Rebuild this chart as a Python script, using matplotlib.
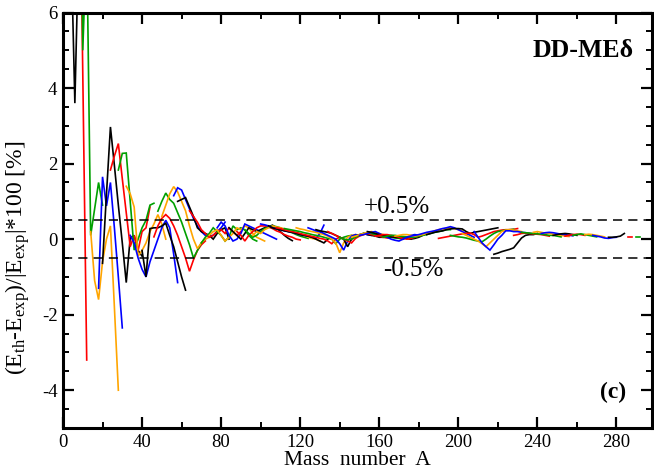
import matplotlib
matplotlib.use("Agg")
import matplotlib.pyplot as plt
from matplotlib.ticker import MultipleLocator

# ---------------- data ----------------
# colour cycle of the isotopic chains (Z = 2, 4, 6, ...)
chain_colors = ["black", "#FF0000", "#00A000", "#FFA500", "#0000FF"]

# first mass number of every chain (even-even nuclei, step of 2 in A)
chain_start_A = [
    4, 8, 8, 14, 18, 20, 24, 28, 32, 34,
    40, 46, 48, 50, 56, 58, 64, 70, 74, 78,
    84, 88, 92, 96, 100, 104, 108, 112, 118, 124,
    128, 134, 140, 146, 150, 154, 158, 162, 168, 172,
    184, 190, 196, 202, 208, 218, 228, 232, 238, 242,
    248, 254, 258, 264, 268, 276, 286, 290,
]

# relative deviation (E_th - E_exp)/|E_exp| * 100 along each chain
chain_dev = [
    [8.0, 3.6, 8.0],
    [12.0, 4.4, -3.2],
    [15.0, 5.0, 8.0, 0.1, 0.8, 1.5, 0.9],
    [0.2, -1.1, -1.6, -0.6, 0.0, 0.35, -1.8, -4.0],
    [-1.3, 1.65, 0.88, 1.5, 0.3, -1.0, -2.35],
    [-0.64, 1.2, 2.97, 1.95, 0.9, -0.1, -1.15, 0.03, 0.1, -0.3, -0.45],
    [1.83, 2.2, 2.53, 1.6, 0.7, -0.2, 0.1, -0.3, 0.2, 0.3, 0.85],
    [1.83, 2.27, 2.28, 1.0, -0.29, 0.0, 0.3, 0.5, 0.9, 0.95],
    [1.4, 1.2, 0.85, -0.45, -0.3, -0.1, 0.2, 0.4, 0.65, 0.4, 0.0],
    [0.1, -0.1, -0.5, -0.8, -1.0, -0.6, -0.3, 0.0, 0.3, 0.5, 0.3, -0.4, -1.15],
    [-0.3, -1.0, 0.28, 0.3, 0.3, 0.35, 0.42, 0.1, -0.2, -0.6, -1.0, -1.35],
    [0.06, 0.35, 0.55, 0.65, 0.55, 0.35, 0.1, -0.2, -0.5, -0.85, -0.55, -0.3, -0.15, -0.05],
    [0.74, 1.0, 1.22, 1.05, 0.95, 0.7, 0.45, 0.15, -0.15, -0.5, -0.3, -0.1, 0.0],
    [0.6, 0.9, 1.2, 1.39, 1.25, 1.0, 0.75, 0.35, 0.0, -0.25, -0.1, 0.0, 0.05, 0.1, 0.2],
    [1.15, 1.36, 1.3, 1.05, 0.8, 0.55, 0.35, 0.2, 0.1, 0.08, 0.1, 0.2, 0.3, 0.45],
    [1.0, 1.05, 1.1, 0.85, 0.6, 0.3, 0.2, 0.15, 0.1, 0.0, 0.15, 0.25, 0.3, 0.0],
    [0.75, 0.6, 0.45, 0.25, 0.15, 0.05, 0.1, 0.2, 0.25, 0.15, 0.3, 0.2, 0.1, 0.2],
    [-0.1, 0.05, 0.15, 0.3, 0.2, 0.1, -0.05, 0.05, 0.35, 0.25, 0.3, 0.24, 0.1, 0.0, -0.05],
    [0.1, 0.2, 0.25, 0.1, -0.05, 0.05, 0.15, 0.3, 0.25, 0.35, 0.3, 0.15, 0.05, 0.0, -0.05],
    [0.3, 0.45, 0.35, 0.1, -0.05, 0.0, 0.15, 0.4, 0.35, 0.3, 0.25, 0.2, 0.15, 0.1, 0.05, 0.0],
    [0.3, 0.2, 0.1, 0.0, 0.15, 0.3, 0.25, 0.2, 0.25, 0.3, 0.33, 0.37, 0.3, 0.2, 0.1, 0.02, -0.04],
    [0.2, 0.1, -0.05, 0.1, 0.2, 0.3, 0.35, 0.35, 0.32, 0.28, 0.22, 0.18, 0.12, 0.08, 0.05, 0.0, -0.02],
    [0.25, 0.15, 0.05, 0.1, 0.2, 0.28, 0.32, 0.35, 0.33, 0.3, 0.25, 0.2, 0.17, 0.12, 0.08, 0.05, 0.02],
    [0.1, 0.2, 0.15, 0.25, 0.3, 0.35, 0.32, 0.3, 0.27, 0.23, 0.2, 0.15, 0.12, 0.1, 0.05, 0.02, 0.0, -0.05],
    [0.4, 0.38, 0.35, 0.3, 0.27, 0.25, 0.22, 0.2, 0.18, 0.15, 0.12, 0.1, 0.08, 0.05, 0.02, 0.15, 0.37],
    [0.35, 0.3, 0.27, 0.25, 0.22, 0.2, 0.18, 0.15, 0.12, 0.1, 0.08, 0.05, 0.0, -0.05, -0.1, 0.0],
    [0.3, 0.28, 0.25, 0.22, 0.2, 0.18, 0.15, 0.12, 0.1, 0.07, 0.05, 0.02, 0.0, -0.05, -0.12, 0.0, 0.05],
    [0.28, 0.26, 0.24, 0.22, 0.2, 0.17, 0.15, 0.12, 0.1, 0.08, 0.05, 0.02, 0.0, -0.12, 0.0, 0.05, 0.08, 0.1],
    [0.3, 0.27, 0.25, 0.22, 0.2, 0.18, 0.15, 0.12, 0.08, 0.0, -0.1, -0.36, -0.1, 0.05, 0.1, 0.12, 0.1, 0.12],
    [0.3, 0.26, 0.22, 0.2, 0.15, 0.1, 0.05, 0.0, -0.12, -0.29, -0.05, 0.08, 0.12, 0.1, 0.15, 0.12, 0.1, 0.12],
    [0.25, 0.22, 0.2, 0.18, 0.15, 0.1, 0.05, 0.0, -0.2, 0.0, 0.08, 0.12, 0.15, 0.12, 0.1, 0.08, 0.05, 0.05],
    [0.2, 0.15, 0.1, 0.05, 0.0, -0.05, -0.1, 0.02, 0.08, 0.12, 0.15, 0.12, 0.1, 0.08, 0.05, 0.03, 0.05, 0.08],
    [0.05, 0.0, -0.02, 0.0, 0.05, 0.1, 0.15, 0.17, 0.15, 0.12, 0.1, 0.08, 0.05, 0.05, 0.03, 0.02, 0.0],
    [0.05, 0.08, 0.12, 0.15, 0.18, 0.2, 0.18, 0.15, 0.12, 0.1, 0.08, 0.06, 0.05, 0.03, 0.02, 0.0],
    [0.1, 0.12, 0.15, 0.18, 0.2, 0.15, 0.1, 0.05, 0.0, -0.03, -0.05, 0.0, 0.05, 0.1, 0.12, 0.1],
    [0.2, 0.18, 0.15, 0.12, 0.1, 0.08, 0.06, 0.05, 0.04, 0.03, 0.02, 0.0, 0.02, 0.05, 0.1, 0.15],
    [0.08, 0.1, 0.12, 0.12, 0.1, 0.08, 0.05, 0.02, 0.0, 0.02, 0.05, 0.08, 0.12, 0.15, 0.18, 0.2, 0.22],
    [0.05, 0.08, 0.1, 0.1, 0.08, 0.07, 0.06, 0.05, 0.05, 0.08, 0.1, 0.12, 0.15, 0.18, 0.2, 0.22, 0.25, 0.25],
    [0.08, 0.1, 0.12, 0.12, 0.1, 0.08, 0.1, 0.12, 0.15, 0.18, 0.22, 0.25, 0.27, 0.28, 0.3, 0.28, 0.25, 0.22],
    [0.0, 0.05, 0.08, 0.1, 0.12, 0.15, 0.18, 0.2, 0.22, 0.25, 0.28, 0.3, 0.33, 0.3, 0.25, 0.2, 0.15, 0.1, 0.05],
    [0.12, 0.15, 0.18, 0.2, 0.22, 0.25, 0.27, 0.28, 0.28, 0.27, 0.2, 0.15, 0.18, 0.2, 0.22, 0.24, 0.26, 0.28, 0.3],
    [0.02, 0.04, 0.06, 0.08, 0.1, 0.12, 0.14, 0.15, 0.16, 0.12, 0.05, 0.08, 0.12, 0.16, 0.2, 0.22, 0.24, 0.25, 0.25, 0.26, 0.28],
    [0.1, 0.08, 0.06, 0.05, 0.03, 0.0, -0.03, -0.05, -0.07, 0.0, 0.08, 0.15, 0.2, 0.22, 0.24, 0.25, 0.26],
    [0.15, 0.1, 0.05, 0.0, -0.05, -0.12, -0.2, -0.1, 0.0, 0.1, 0.2, 0.24, 0.25, 0.24, 0.22, 0.2],
    [0.2, 0.05, -0.1, -0.2, -0.29, -0.15, 0.0, 0.1, 0.22, 0.22, 0.2, 0.2, 0.18, 0.17, 0.15],
    [-0.4, -0.37, -0.33, -0.3, -0.27, -0.23, -0.1, 0.03, 0.1, 0.12, 0.12, 0.15],
    [0.1, 0.12, 0.15, 0.16, 0.15, 0.14, 0.13, 0.12, 0.1, 0.08],
    [0.18, 0.17, 0.16, 0.15, 0.14, 0.13, 0.12, 0.1, 0.1, 0.08, 0.06],
    [0.18, 0.2, 0.18, 0.16, 0.15, 0.13, 0.12, 0.1, 0.08, 0.07],
    [0.15, 0.17, 0.18, 0.17, 0.15, 0.13, 0.12, 0.1, 0.09],
    [0.1, 0.12, 0.14, 0.15, 0.14, 0.12, 0.1],
    [0.08, 0.1, 0.12, 0.13, 0.12, 0.1],
    [0.1, 0.12, 0.14, 0.12, 0.1, 0.08, 0.06],
    [0.12, 0.13, 0.12, 0.1, 0.08, 0.06],
    [0.1, 0.08, 0.06, 0.03, 0.02, 0.04, 0.05],
    [0.05, 0.05, 0.06, 0.08, 0.15],
    [0.06, 0.06],
    [0.05, 0.05],
]

band = [0.5, -0.5]
band_labels = ["+0.5%", "-0.5%"]
x_ticks = [0, 40, 80, 120, 160, 200, 240, 280]
y_ticks = [-4, -2, 0, 2, 4, 6]

# ---------------- figure ----------------
plt.rcParams["font.family"] = ["Liberation Serif", "DejaVu Serif"]
plt.rcParams["mathtext.fontset"] = "custom"
plt.rcParams["mathtext.rm"] = "Liberation Serif"
plt.rcParams["mathtext.it"] = "Liberation Serif:italic"
plt.rcParams["axes.unicode_minus"] = False

fig = plt.figure(figsize=(6.54, 4.70), dpi=100)
ax = fig.add_axes([63 / 654, 1 - 428 / 470, (652 - 63) / 654, (428 - 12.5) / 470])

for i, (a0, dev) in enumerate(zip(chain_start_A, chain_dev)):
    A = [a0 + 2 * k for k in range(len(dev))]
    ax.plot(A, dev, color=chain_colors[i % 5], lw=1.2, solid_joinstyle="miter")

for b in band:
    ax.axhline(b, color="black", lw=1.1, ls=(0, (6, 4)))

ax.text(169, 0.85, band_labels[0], fontsize=18, ha="center", va="center")
ax.text(177, -0.82, band_labels[1], fontsize=18, ha="center", va="center")
ax.text(288.5, 5.0, "DD-ME\u03b4", fontsize=18.5, fontweight="bold", ha="right", va="center")
ax.text(285, -4.07, "(c)", fontsize=17, fontweight="bold", ha="right", va="center")

ax.set_xlim(0, 298)
ax.set_ylim(-5, 6)
ax.set_xticks(x_ticks)
ax.set_yticks(y_ticks)
ax.xaxis.set_minor_locator(MultipleLocator(20))
ax.yaxis.set_minor_locator(MultipleLocator(0.5))
ax.tick_params(which="both", direction="in", top=True, right=True, labelsize=13.5)
ax.tick_params(which="major", length=8, width=1.6, pad=4)
ax.tick_params(which="minor", length=4, width=1.4)
for s in ax.spines.values():
    s.set_linewidth(2.2)

ax.set_xlabel("Mass  number  A", fontsize=15.5, labelpad=0)
ax.set_ylabel(r"(E$_{\rm th}$-E$_{\rm exp}$)/|E$_{\rm exp}$|*100 [%]", fontsize=17)
ax.yaxis.set_label_coords(-0.052, 0.41)

fig.savefig("out.png", dpi=100)
